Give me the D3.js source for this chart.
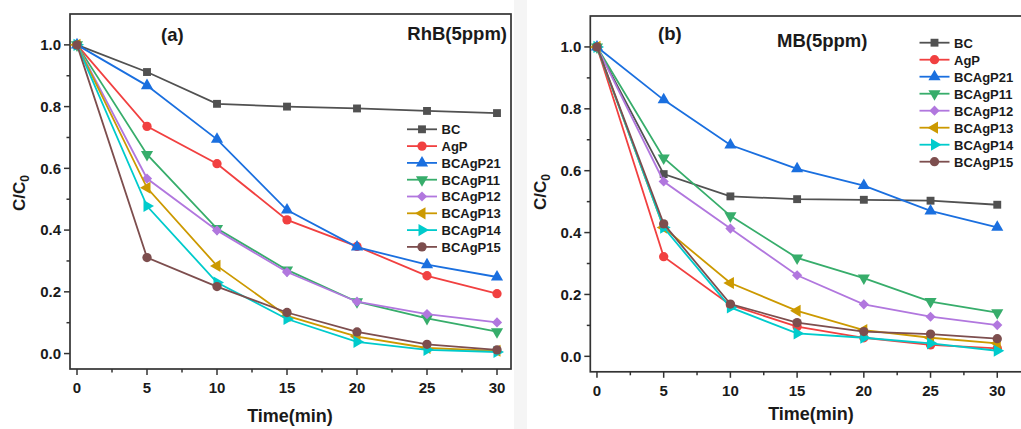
<!DOCTYPE html>
<html>
<head>
<meta charset="utf-8">
<script src="https://cdn.jsdelivr.net/npm/d3@7"></script>
<style>
  body { margin: 0; background: #fff; }
  svg { display: block; font-family: "Liberation Sans", Arial, sans-serif; font-weight: bold; }
</style>
</head>
<body>
<div id="chart"></div>
<script>
/*
 *  DATA
 */
var time = [0, 5, 10, 15, 20, 25, 30];
var series_names = ["BC", "AgP", "BCAgP21", "BCAgP11", "BCAgP12", "BCAgP13", "BCAgP14", "BCAgP15"];
var series_colors = ["#515151", "#F14040", "#1A6FDF", "#37AD6B", "#B177DE", "#CC9900", "#00CBCC", "#7D4E4E"];

// panel (a) RhB(5ppm)
var rhb_bc      = [1.0, 0.912, 0.809, 0.800, 0.794, 0.786, 0.779];
var rhb_agp     = [1.0, 0.736, 0.615, 0.433, 0.347, 0.252, 0.194];
var rhb_bcagp21 = [1.0, 0.868, 0.694, 0.465, 0.345, 0.288, 0.248];
var rhb_bcagp11 = [1.0, 0.645, 0.405, 0.271, 0.168, 0.114, 0.071];
var rhb_bcagp12 = [1.0, 0.567, 0.399, 0.264, 0.168, 0.128, 0.101];
var rhb_bcagp13 = [1.0, 0.537, 0.284, 0.122, 0.055, 0.018, 0.009];
var rhb_bcagp14 = [1.0, 0.478, 0.230, 0.112, 0.038, 0.012, 0.005];
var rhb_bcagp15 = [1.0, 0.311, 0.217, 0.133, 0.070, 0.030, 0.012];

// panel (b) MB(5ppm)
var mb_bc      = [1.0, 0.589, 0.517, 0.508, 0.506, 0.503, 0.490];
var mb_agp     = [1.0, 0.322, 0.166, 0.096, 0.060, 0.037, 0.026];
var mb_bcagp21 = [1.0, 0.829, 0.683, 0.606, 0.552, 0.470, 0.417];
var mb_bcagp11 = [1.0, 0.641, 0.454, 0.318, 0.253, 0.177, 0.141];
var mb_bcagp12 = [1.0, 0.565, 0.413, 0.262, 0.168, 0.128, 0.101];
var mb_bcagp13 = [1.0, 0.416, 0.237, 0.147, 0.085, 0.060, 0.042];
var mb_bcagp14 = [1.0, 0.416, 0.158, 0.074, 0.060, 0.042, 0.018];
var mb_bcagp15 = [1.0, 0.428, 0.169, 0.109, 0.080, 0.072, 0.057];

var y_major = [0, 0.2, 0.4, 0.6, 0.8, 1.0];
var y_minor = [0.1, 0.3, 0.5, 0.7, 0.9];
var x_major = [0, 5, 10, 15, 20, 25, 30];
var x_minor = [2.5, 7.5, 12.5, 17.5, 22.5, 27.5];

/*
 *  SETUP
 */
var svg = d3.select("#chart")
    .append("svg")
        .attr("width", 1021)
        .attr("height", 429);

// faint strip between the two panels
svg.append("rect")
    .attr("x", 514).attr("y", 0)
    .attr("width", 13).attr("height", 429)
    .attr("fill", "#f5f5f5");

var panels = [
    {
        values: [rhb_bc, rhb_agp, rhb_bcagp21, rhb_bcagp11, rhb_bcagp12, rhb_bcagp13, rhb_bcagp14, rhb_bcagp15],
        left: 70, right: 511, top: 14, bottom: 369, frame_right: 511,
        tag: "(a)", tag_x: 161, tag_y: 41,
        title: "RhB(5ppm)", title_x: 507, title_y: 40, title_anchor: "end",
        legend_x: 407, legend_y: 129.3, legend_dy: 16.8,
        xlabel_x: 290, xlabel_y: 422,
        ylabel_x: 25, ylabel_y: 193
    },
    {
        values: [mb_bc, mb_agp, mb_bcagp21, mb_bcagp11, mb_bcagp12, mb_bcagp13, mb_bcagp14, mb_bcagp15],
        left: 590.3, right: 1010.6, top: 16, bottom: 371.8, frame_right: 1040,
        tag: "(b)", tag_x: 658, tag_y: 40,
        title: "MB(5ppm)", title_x: 777, title_y: 47, title_anchor: "start",
        legend_x: 919.5, legend_y: 42.7, legend_dy: 17,
        xlabel_x: 811, xlabel_y: 420,
        ylabel_x: 546, ylabel_y: 192
    }
];

function marker(i) {
    // Origin style marker shapes for each series
    var shapes = [
        {type: d3.symbolSquare, size: 62, rot: 0},
        {type: d3.symbolCircle, size: 68, rot: 0},
        {type: d3.symbolTriangle, size: 64, rot: 0},
        {type: d3.symbolTriangle, size: 64, rot: 180},
        {type: d3.symbolSquare, size: 52, rot: 45},
        {type: d3.symbolTriangle, size: 64, rot: -90},
        {type: d3.symbolTriangle, size: 64, rot: 90},
        {type: d3.symbolCircle, size: 68, rot: 0}
    ];
    return shapes[i];
}

function draw_panel(p) {
    var x_scale = d3.scaleLinear()
        .domain([-0.5, 31])
        .range([p.left, p.right]);
    var y_scale = d3.scaleLinear()
        .domain([-0.05, 1.1])
        .range([p.bottom, p.top]);

    var g = svg.append("g");

    // frame
    g.append("rect")
        .attr("x", p.left)
        .attr("y", p.top)
        .attr("width", p.frame_right - p.left)
        .attr("height", p.bottom - p.top)
        .attr("fill", "none")
        .attr("stroke", "#333")
        .attr("stroke-width", 1.7);

    // y axis ticks
    g.selectAll(".ymaj")
        .data(y_major)
        .enter()
        .append("line")
        .attr("x1", p.left).attr("x2", p.left - 6)
        .attr("y1", function(d) { return y_scale(d); })
        .attr("y2", function(d) { return y_scale(d); })
        .attr("stroke", "#333").attr("stroke-width", 1.5);
    g.selectAll(".ymin")
        .data(y_minor)
        .enter()
        .append("line")
        .attr("x1", p.left).attr("x2", p.left - 3.5)
        .attr("y1", function(d) { return y_scale(d); })
        .attr("y2", function(d) { return y_scale(d); })
        .attr("stroke", "#333").attr("stroke-width", 1.5);
    g.selectAll(".ylab")
        .data(y_major)
        .enter()
        .append("text")
        .attr("x", p.left - 9)
        .attr("y", function(d) { return y_scale(d) + 5.3; })
        .attr("text-anchor", "end")
        .attr("font-size", 15)
        .attr("fill", "#1a1a1a")
        .text(function(d) { return d.toFixed(1); });

    // x axis ticks
    g.selectAll(".xmaj")
        .data(x_major)
        .enter()
        .append("line")
        .attr("x1", function(d) { return x_scale(d); })
        .attr("x2", function(d) { return x_scale(d); })
        .attr("y1", p.bottom).attr("y2", p.bottom + 6)
        .attr("stroke", "#333").attr("stroke-width", 1.5);
    g.selectAll(".xmin")
        .data(x_minor)
        .enter()
        .append("line")
        .attr("x1", function(d) { return x_scale(d); })
        .attr("x2", function(d) { return x_scale(d); })
        .attr("y1", p.bottom).attr("y2", p.bottom + 3.5)
        .attr("stroke", "#333").attr("stroke-width", 1.5);
    g.selectAll(".xlab")
        .data(x_major)
        .enter()
        .append("text")
        .attr("x", function(d) { return x_scale(d); })
        .attr("y", p.bottom + 24)
        .attr("text-anchor", "middle")
        .attr("font-size", 15)
        .attr("fill", "#1a1a1a")
        .text(function(d) { return d; });

    // axis titles
    g.append("text")
        .attr("x", p.xlabel_x)
        .attr("y", p.xlabel_y)
        .attr("text-anchor", "middle")
        .attr("font-size", 18)
        .attr("fill", "#1a1a1a")
        .text("Time(min)");
    var yl = g.append("text")
        .attr("transform", "translate(" + p.ylabel_x + "," + p.ylabel_y + ")rotate(-90)")
        .attr("text-anchor", "middle")
        .attr("font-size", 17)
        .attr("fill", "#1a1a1a");
    yl.append("tspan").text("C/C");
    yl.append("tspan").attr("font-size", 12).attr("dy", 4).text("0");

    // tags and titles
    g.append("text")
        .attr("x", p.tag_x).attr("y", p.tag_y)
        .attr("font-size", 18.5)
        .attr("fill", "#1a1a1a")
        .text(p.tag);
    g.append("text")
        .attr("x", p.title_x).attr("y", p.title_y)
        .attr("text-anchor", p.title_anchor)
        .attr("font-size", 18.5)
        .attr("fill", "#1a1a1a")
        .text(p.title);

    var line = d3.line()
        .x(function(d, i) { return x_scale(time[i]); })
        .y(function(d) { return y_scale(d); });

    // series lines and markers
    p.values.forEach(function(vals, i) {
        var m = marker(i);
        var sym = d3.symbol().type(m.type).size(m.size);
        g.append("path")
            .attr("d", line(vals))
            .attr("fill", "none")
            .attr("stroke", series_colors[i])
            .attr("stroke-width", 1.8);
        g.selectAll(".pt" + i)
            .data(vals)
            .enter()
            .append("path")
            .attr("d", sym())
            .attr("transform", function(d, j) {
                return "translate(" + x_scale(time[j]) + "," + y_scale(d) + ")rotate(" + m.rot + ")";
            })
            .attr("fill", series_colors[i]);
    });

    // legend
    series_names.forEach(function(name, i) {
        var m = marker(i);
        var sym = d3.symbol().type(m.type).size(m.size);
        var ly = p.legend_y + i * p.legend_dy;
        g.append("line")
            .attr("x1", p.legend_x).attr("x2", p.legend_x + 30)
            .attr("y1", ly).attr("y2", ly)
            .attr("stroke", series_colors[i])
            .attr("stroke-width", 1.8);
        g.append("path")
            .attr("d", sym())
            .attr("transform", "translate(" + (p.legend_x + 15) + "," + ly + ")rotate(" + m.rot + ")")
            .attr("fill", series_colors[i]);
        g.append("text")
            .attr("x", p.legend_x + 34.5)
            .attr("y", ly + 4.8)
            .attr("font-size", 13)
            .attr("fill", "#1a1a1a")
            .text(name);
    });
}

panels.forEach(draw_panel);
</script>
</body>
</html>
